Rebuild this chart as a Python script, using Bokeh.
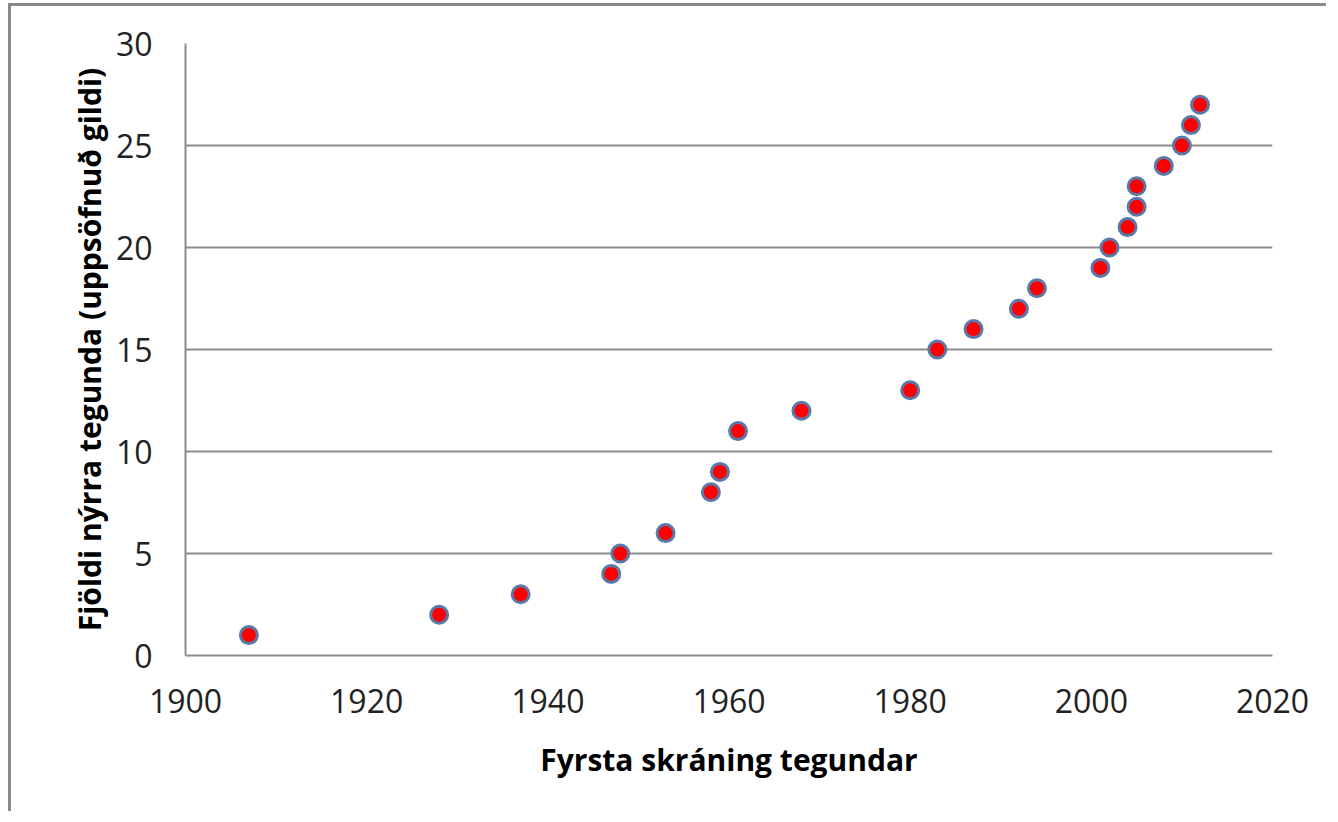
from bokeh.plotting import figure
from bokeh.models import Range1d, FixedTicker
from bokeh.embed import file_html
from bokeh.resources import INLINE

years = [1907, 1928, 1937, 1947, 1948, 1953, 1958, 1959, 1961, 1968, 1980, 1983,
         1987, 1992, 1994, 2001, 2002, 2004, 2005, 2005, 2008, 2010, 2011, 2012]
counts = [1, 2, 3, 4, 5, 6, 8, 9, 11, 12, 13, 15,
          16, 17, 18, 19, 20, 21, 22, 23, 24, 25, 26, 27]
x_ticks = [1900, 1920, 1940, 1960, 1980, 2000, 2020]
y_ticks = [0, 5, 10, 15, 20, 25, 30]
x_title = "Fyrsta skráning tegundar"
y_title = "Fjöldi nýrra tegunda (uppsöfnuð gildi)"

FONT = "Open Sans"

p = figure(width=1318, height=808, output_backend="svg", toolbar_location=None,
           x_range=Range1d(1900, 2020), y_range=Range1d(0, 30))
p.styles = {"border-left": "3px solid #8a8a8a", "border-top": "3px solid #8a8a8a",
            "margin-left": "8px", "margin-top": "3px"}
p.min_border_left = 174
p.min_border_right = 57
p.min_border_top = 37
p.min_border_bottom = 159
p.outline_line_color = None
p.background_fill_color = "white"
p.border_fill_color = "white"

p.xaxis.ticker = FixedTicker(ticks=x_ticks)
p.yaxis.ticker = FixedTicker(ticks=y_ticks)
for ax in (p.xaxis, p.yaxis):
    ax.axis_line_color = "#8c8c8c"
    ax.axis_line_width = 2
    ax.major_tick_line_color = None
    ax.minor_tick_line_color = None
    ax.major_label_text_font = FONT
    ax.major_label_text_font_size = "32px"
    ax.major_label_text_color = "#222222"
    ax.axis_label_text_font = FONT
    ax.axis_label_text_font_style = "bold"
    ax.axis_label_text_font_size = "30px"
    ax.axis_label_text_color = "#000000"

p.xaxis.major_label_standoff = 27
p.yaxis.major_label_standoff = 27
p.xaxis.axis_label = x_title
p.yaxis.axis_label = y_title
p.xaxis.axis_label_standoff = 23
p.yaxis.axis_label_standoff = 3

p.xgrid.grid_line_color = None
p.ygrid.grid_line_color = "#8c8c8c"
p.ygrid.grid_line_width = 2

p.scatter(years, counts, marker="circle", size=17, fill_color="#ff0000",
          line_color="#5a78a8", line_width=3)

open("out.html", "w").write(file_html(p, INLINE))
